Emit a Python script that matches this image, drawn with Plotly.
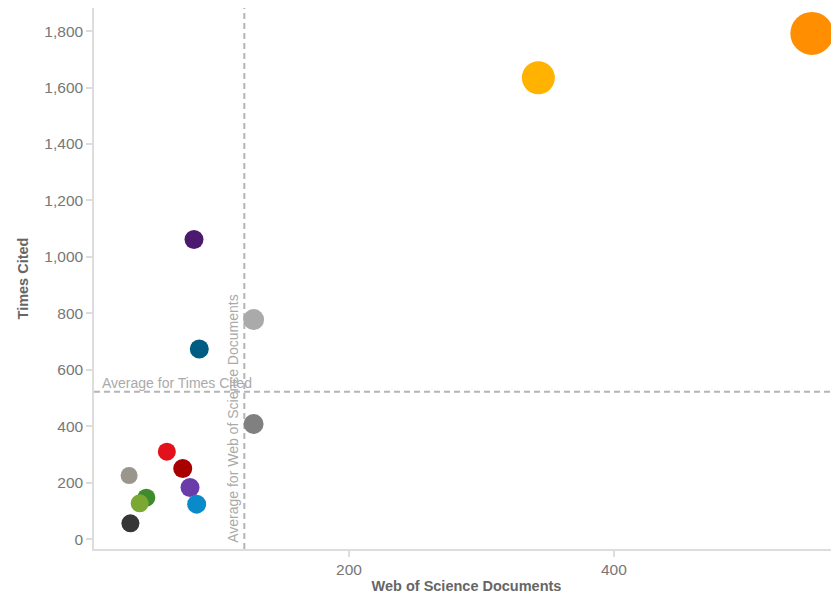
import plotly.graph_objects as go

# ---- data ----
wos_documents = [549.5, 343, 83, 87, 128, 128, 62.5, 74.5, 80, 85, 34, 47, 42, 35]
times_cited = [1792, 1635, 1062, 674, 778, 408, 310, 250, 183, 124, 225, 147, 127, 56]
marker_diameters = [43, 33, 19, 19, 21, 20, 18, 19, 19, 19, 17, 18, 18, 18]
point_colors = ["#FF8F00", "#FFB300", "#4B1A6E", "#005C82", "#AAAAAA", "#808080",
                "#E2111B", "#A80000", "#6A3CAA", "#0A8BC9", "#9A958D", "#3E8A2C",
                "#7BA833", "#363636"]
avg_documents = 121
avg_times_cited = 522

x_ticks = [200, 400]
y_ticks = [0, 200, 400, 600, 800, 1000, 1200, 1400, 1600, 1800]

fig = go.Figure()
fig.add_trace(go.Scatter(
    x=wos_documents, y=times_cited, mode="markers",
    marker=dict(size=marker_diameters, color=point_colors, opacity=1,
                line=dict(width=0)),
    cliponaxis=False, hoverinfo="x+y", showlegend=False,
))

line_style = dict(color="#B5B5B5", width=2, dash="6px,4px")
fig.add_shape(type="line", xref="x", yref="paper", x0=avg_documents, x1=avg_documents,
              y0=0, y1=1, line=line_style, layer="below")
fig.add_shape(type="line", xref="paper", yref="y", x0=0, x1=1,
              y0=avg_times_cited, y1=avg_times_cited, line=line_style, layer="below")

ann_font = dict(family="Liberation Sans, Arial, sans-serif", size=14, color="#AAAAAA")
fig.add_annotation(text="Average for Times Cited", xref="paper", yref="y",
                   x=0, y=avg_times_cited, xanchor="left", yanchor="bottom",
                   xshift=6, yshift=-1, showarrow=False, font=ann_font)
fig.add_annotation(text="Average for Web of Science Documents", xref="x", yref="paper",
                   x=avg_documents, y=0, xanchor="right", yanchor="bottom",
                   xshift=-2, yshift=4, textangle=-90, showarrow=False, font=ann_font)

axis_common = dict(
    showgrid=False, zeroline=False, showline=True, linecolor="#DDDDDD", linewidth=1.5,
    ticks="outside", ticklen=6, tickcolor="#DDDDDD", tickwidth=1.5,
    tickfont=dict(family="Liberation Sans, Arial, sans-serif", size=15.5, color="#777777"),
)

# page body has an 8px margin: figure is shrunk so the plot area lands where the reference has it
fig.update_layout(
    width=831, height=587,
    margin=dict(l=86, r=0, t=0, b=46),
    paper_bgcolor="white", plot_bgcolor="white",
    xaxis=dict(range=[7.5, 570], tickvals=x_ticks, ticktext=[str(v) for v in x_ticks],
               title=dict(text="<b>Web of Science Documents</b>", standoff=4,
                          font=dict(family="Liberation Sans, Arial, sans-serif", size=14.5, color="#666666")),
               **axis_common),
    yaxis=dict(range=[-35, 1882], tickvals=y_ticks, ticktext=[f"{v:,}" for v in y_ticks],
               title=dict(text="<b>Times Cited</b>", standoff=12,
                          font=dict(family="Liberation Sans, Arial, sans-serif", size=14.5, color="#666666")),
               **axis_common),
)

fig.write_html("out.html")
